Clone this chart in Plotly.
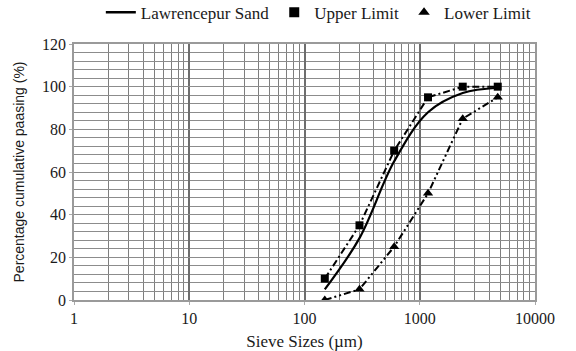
import plotly.graph_objects as go

sieve = [150, 300, 600, 1180, 2360, 4750]
sand = [5, 29, 65, 88, 97, 99.5]
upper = [10, 35, 70, 95, 100, 100]
lower = [0, 5, 25, 50, 85, 95]
xticks = [1, 10, 100, 1000, 10000]
xticklabels = ["1", "10", "100", "1000", "10000"]

serif = "Liberation Serif"
txt = "#1a1a1a"
fig = go.Figure()
fig.add_trace(go.Scatter(x=sieve, y=sand, mode="lines", line=dict(color="black", width=2.2, shape="spline", smoothing=1.0),
                         showlegend=False))
fig.add_trace(go.Scatter(x=sieve, y=upper, mode="lines+markers",
                         line=dict(color="black", width=2, dash="7px,3px,2px,3px"),
                         marker=dict(symbol="square", size=8, color="black"), showlegend=False))
fig.add_trace(go.Scatter(x=sieve, y=lower, mode="lines+markers",
                         line=dict(color="black", width=2, dash="7px,3px,2px,3px,2px,3px"),
                         marker=dict(symbol="triangle-up", size=9, color="black"), showlegend=False))
# legend entries
fig.add_trace(go.Scatter(x=[None], y=[None], mode="lines", name="Lawrencepur Sand",
                         line=dict(color="black", width=2.5)))
fig.add_trace(go.Scatter(x=[None], y=[None], mode="markers", name="Upper Limit",
                         marker=dict(symbol="square", size=10, color="black")))
fig.add_trace(go.Scatter(x=[None], y=[None], mode="markers", name="Lower Limit",
                         marker=dict(symbol="triangle-up", size=10, color="black")))

fig.update_layout(
    width=576, height=351,
    margin=dict(l=74, r=41, t=44, b=51, autoexpand=False),
    paper_bgcolor="white", plot_bgcolor="white",
    font=dict(family=serif, size=16, color=txt),
    legend=dict(orientation="h", x=0.53, xanchor="center", y=1.052, yanchor="bottom",
                font=dict(family=serif, size=17, color=txt), itemwidth=30,
                bgcolor="rgba(0,0,0,0)"),
    xaxis=dict(type="log", range=[0, 4], tickvals=xticks, ticktext=xticklabels,
               showgrid=True, gridcolor="#6e6e6e", gridwidth=1.5,
               minor=dict(dtick="D1", showgrid=True, gridcolor="#7e7e7e", gridwidth=1.4),
               showline=True, linecolor="#9a9a9a", linewidth=1.5, mirror=True,
               ticks="outside", ticklen=3, tickcolor="#aaaaaa", automargin=False,
               title=dict(text="Sieve Sizes (µm)", font=dict(family=serif, size=17, color=txt), standoff=10),
               tickfont=dict(family=serif, size=16, color=txt), zeroline=False),
    yaxis=dict(range=[0, 120], tick0=0, dtick=20,
               showgrid=True, gridcolor="#8c8c8c", gridwidth=1.4,
               minor=dict(dtick=4, showgrid=True, gridcolor="#8c8c8c", gridwidth=1.4),
               showline=True, linecolor="#9a9a9a", linewidth=1.5, mirror=True,
               ticks="outside", ticklen=3, tickcolor="#aaaaaa", automargin=False,
               title=dict(text="Percentage cumulative paasing (%)", font=dict(family="Liberation Sans Narrow, Liberation Sans", size=14, color=txt), standoff=14),
               tickfont=dict(family=serif, size=16, color=txt), zeroline=False),
)
fig.write_html("out.html")
